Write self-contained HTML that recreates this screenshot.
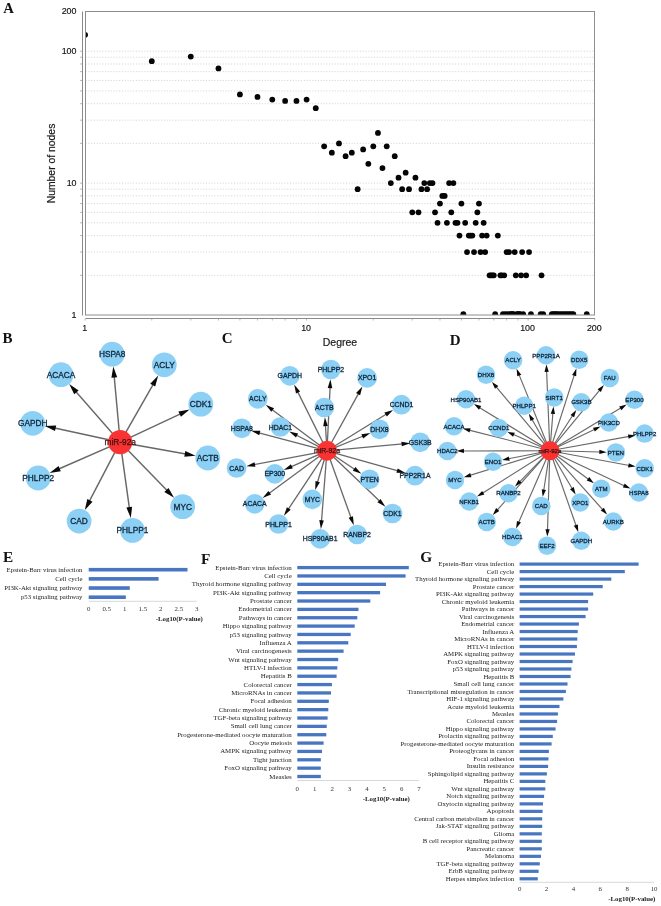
<!DOCTYPE html>
<html lang="en"><head><meta charset="utf-8"><title>miR-92a target network and pathway enrichment</title>
<style>html,body{margin:0;padding:0;background:#fff}svg{display:block}.sans{font-family:"Liberation Sans","DejaVu Sans",sans-serif}.serif{font-family:"Liberation Serif","DejaVu Serif",serif}.tick{font-size:8.9px;fill:#111;stroke:#111;stroke-width:0.15px}.axl{fill:#1a1a1a;stroke:#1a1a1a;stroke-width:0.2px}.nl{fill:#10263a;stroke:#10263a;stroke-width:0.3px;text-anchor:middle}.cl{fill:#3a1010;stroke:#3a1010;stroke-width:0.25px;text-anchor:middle}.bl{fill:#222;text-anchor:end}.bt{fill:#333;text-anchor:middle}.bx{fill:#222;font-weight:bold;text-anchor:middle}.pl{font-weight:bold;fill:#111}</style></head><body>
<svg width="661" height="906" viewBox="0 0 661 906" role="img" aria-label="miR-92a network degree distribution, target networks and KEGG pathway enrichment">
<rect width="661" height="906" fill="#fff"/>
<g id="panelA">
<line x1="85.5" y1="275.29" x2="594.5" y2="275.29" stroke="#cbcbcb" stroke-width="0.8" stroke-dasharray="1.1 1.7"/>
<line x1="80.2" y1="275.29" x2="82.5" y2="275.29" stroke="#9a9a9a" stroke-width="0.8"/>
<line x1="85.5" y1="252.07" x2="594.5" y2="252.07" stroke="#cbcbcb" stroke-width="0.8" stroke-dasharray="1.1 1.7"/>
<line x1="80.2" y1="252.07" x2="82.5" y2="252.07" stroke="#9a9a9a" stroke-width="0.8"/>
<line x1="85.5" y1="235.59" x2="594.5" y2="235.59" stroke="#cbcbcb" stroke-width="0.8" stroke-dasharray="1.1 1.7"/>
<line x1="80.2" y1="235.59" x2="82.5" y2="235.59" stroke="#9a9a9a" stroke-width="0.8"/>
<line x1="85.5" y1="222.81" x2="594.5" y2="222.81" stroke="#cbcbcb" stroke-width="0.8" stroke-dasharray="1.1 1.7"/>
<line x1="80.2" y1="222.81" x2="82.5" y2="222.81" stroke="#9a9a9a" stroke-width="0.8"/>
<line x1="85.5" y1="212.36" x2="594.5" y2="212.36" stroke="#cbcbcb" stroke-width="0.8" stroke-dasharray="1.1 1.7"/>
<line x1="80.2" y1="212.36" x2="82.5" y2="212.36" stroke="#9a9a9a" stroke-width="0.8"/>
<line x1="85.5" y1="203.53" x2="594.5" y2="203.53" stroke="#cbcbcb" stroke-width="0.8" stroke-dasharray="1.1 1.7"/>
<line x1="80.2" y1="203.53" x2="82.5" y2="203.53" stroke="#9a9a9a" stroke-width="0.8"/>
<line x1="85.5" y1="195.88" x2="594.5" y2="195.88" stroke="#cbcbcb" stroke-width="0.8" stroke-dasharray="1.1 1.7"/>
<line x1="80.2" y1="195.88" x2="82.5" y2="195.88" stroke="#9a9a9a" stroke-width="0.8"/>
<line x1="85.5" y1="189.14" x2="594.5" y2="189.14" stroke="#cbcbcb" stroke-width="0.8" stroke-dasharray="1.1 1.7"/>
<line x1="80.2" y1="189.14" x2="82.5" y2="189.14" stroke="#9a9a9a" stroke-width="0.8"/>
<line x1="85.5" y1="183.10" x2="594.5" y2="183.10" stroke="#cbcbcb" stroke-width="0.8" stroke-dasharray="1.1 1.7"/>
<line x1="80.2" y1="183.10" x2="82.5" y2="183.10" stroke="#9a9a9a" stroke-width="0.8"/>
<line x1="85.5" y1="143.39" x2="594.5" y2="143.39" stroke="#cbcbcb" stroke-width="0.8" stroke-dasharray="1.1 1.7"/>
<line x1="80.2" y1="143.39" x2="82.5" y2="143.39" stroke="#9a9a9a" stroke-width="0.8"/>
<line x1="85.5" y1="120.17" x2="594.5" y2="120.17" stroke="#cbcbcb" stroke-width="0.8" stroke-dasharray="1.1 1.7"/>
<line x1="80.2" y1="120.17" x2="82.5" y2="120.17" stroke="#9a9a9a" stroke-width="0.8"/>
<line x1="85.5" y1="103.69" x2="594.5" y2="103.69" stroke="#cbcbcb" stroke-width="0.8" stroke-dasharray="1.1 1.7"/>
<line x1="80.2" y1="103.69" x2="82.5" y2="103.69" stroke="#9a9a9a" stroke-width="0.8"/>
<line x1="85.5" y1="90.91" x2="594.5" y2="90.91" stroke="#cbcbcb" stroke-width="0.8" stroke-dasharray="1.1 1.7"/>
<line x1="80.2" y1="90.91" x2="82.5" y2="90.91" stroke="#9a9a9a" stroke-width="0.8"/>
<line x1="85.5" y1="80.46" x2="594.5" y2="80.46" stroke="#cbcbcb" stroke-width="0.8" stroke-dasharray="1.1 1.7"/>
<line x1="80.2" y1="80.46" x2="82.5" y2="80.46" stroke="#9a9a9a" stroke-width="0.8"/>
<line x1="85.5" y1="71.63" x2="594.5" y2="71.63" stroke="#cbcbcb" stroke-width="0.8" stroke-dasharray="1.1 1.7"/>
<line x1="80.2" y1="71.63" x2="82.5" y2="71.63" stroke="#9a9a9a" stroke-width="0.8"/>
<line x1="85.5" y1="63.98" x2="594.5" y2="63.98" stroke="#cbcbcb" stroke-width="0.8" stroke-dasharray="1.1 1.7"/>
<line x1="80.2" y1="63.98" x2="82.5" y2="63.98" stroke="#9a9a9a" stroke-width="0.8"/>
<line x1="85.5" y1="57.24" x2="594.5" y2="57.24" stroke="#cbcbcb" stroke-width="0.8" stroke-dasharray="1.1 1.7"/>
<line x1="80.2" y1="57.24" x2="82.5" y2="57.24" stroke="#9a9a9a" stroke-width="0.8"/>
<line x1="85.5" y1="51.20" x2="594.5" y2="51.20" stroke="#cbcbcb" stroke-width="0.8" stroke-dasharray="1.1 1.7"/>
<line x1="80.2" y1="51.20" x2="82.5" y2="51.20" stroke="#9a9a9a" stroke-width="0.8"/>
<line x1="82.5" y1="11.5" x2="82.5" y2="315.5" stroke="#8a8a8a" stroke-width="1"/>
<line x1="85.5" y1="318.5" x2="595.0" y2="318.5" stroke="#8a8a8a" stroke-width="1"/>
<line x1="85.10" y1="318.5" x2="85.10" y2="320.5" stroke="#9a9a9a" stroke-width="0.7"/>
<line x1="151.78" y1="318.5" x2="151.78" y2="320.5" stroke="#9a9a9a" stroke-width="0.7"/>
<line x1="190.78" y1="318.5" x2="190.78" y2="320.5" stroke="#9a9a9a" stroke-width="0.7"/>
<line x1="218.46" y1="318.5" x2="218.46" y2="320.5" stroke="#9a9a9a" stroke-width="0.7"/>
<line x1="239.92" y1="318.5" x2="239.92" y2="320.5" stroke="#9a9a9a" stroke-width="0.7"/>
<line x1="257.46" y1="318.5" x2="257.46" y2="320.5" stroke="#9a9a9a" stroke-width="0.7"/>
<line x1="272.29" y1="318.5" x2="272.29" y2="320.5" stroke="#9a9a9a" stroke-width="0.7"/>
<line x1="285.13" y1="318.5" x2="285.13" y2="320.5" stroke="#9a9a9a" stroke-width="0.7"/>
<line x1="296.46" y1="318.5" x2="296.46" y2="320.5" stroke="#9a9a9a" stroke-width="0.7"/>
<line x1="306.60" y1="318.5" x2="306.60" y2="320.5" stroke="#9a9a9a" stroke-width="0.7"/>
<line x1="373.28" y1="318.5" x2="373.28" y2="320.5" stroke="#9a9a9a" stroke-width="0.7"/>
<line x1="412.28" y1="318.5" x2="412.28" y2="320.5" stroke="#9a9a9a" stroke-width="0.7"/>
<line x1="439.96" y1="318.5" x2="439.96" y2="320.5" stroke="#9a9a9a" stroke-width="0.7"/>
<line x1="461.42" y1="318.5" x2="461.42" y2="320.5" stroke="#9a9a9a" stroke-width="0.7"/>
<line x1="478.96" y1="318.5" x2="478.96" y2="320.5" stroke="#9a9a9a" stroke-width="0.7"/>
<line x1="493.79" y1="318.5" x2="493.79" y2="320.5" stroke="#9a9a9a" stroke-width="0.7"/>
<line x1="506.63" y1="318.5" x2="506.63" y2="320.5" stroke="#9a9a9a" stroke-width="0.7"/>
<line x1="517.96" y1="318.5" x2="517.96" y2="320.5" stroke="#9a9a9a" stroke-width="0.7"/>
<line x1="528.10" y1="318.5" x2="528.10" y2="320.5" stroke="#9a9a9a" stroke-width="0.7"/>
<line x1="594.78" y1="318.5" x2="594.78" y2="320.5" stroke="#9a9a9a" stroke-width="0.7"/>
<clipPath id="clipA"><rect x="85.5" y="11.5" width="509.0" height="303.5"/></clipPath>
<g clip-path="url(#clipA)" fill="#050505">
<circle cx="85.10" cy="34.86" r="2.9"/>
<circle cx="151.78" cy="61.19" r="2.9"/>
<circle cx="190.78" cy="56.60" r="2.9"/>
<circle cx="218.46" cy="68.45" r="2.9"/>
<circle cx="239.92" cy="94.45" r="2.9"/>
<circle cx="257.46" cy="96.94" r="2.9"/>
<circle cx="272.29" cy="99.55" r="2.9"/>
<circle cx="285.13" cy="100.89" r="2.9"/>
<circle cx="296.46" cy="100.89" r="2.9"/>
<circle cx="306.60" cy="99.55" r="2.9"/>
<circle cx="315.77" cy="108.15" r="2.9"/>
<circle cx="324.14" cy="146.33" r="2.9"/>
<circle cx="331.84" cy="152.70" r="2.9"/>
<circle cx="338.97" cy="143.39" r="2.9"/>
<circle cx="345.60" cy="156.18" r="2.9"/>
<circle cx="351.81" cy="152.70" r="2.9"/>
<circle cx="357.64" cy="189.14" r="2.9"/>
<circle cx="363.14" cy="149.43" r="2.9"/>
<circle cx="368.34" cy="163.83" r="2.9"/>
<circle cx="373.28" cy="146.33" r="2.9"/>
<circle cx="377.97" cy="132.95" r="2.9"/>
<circle cx="382.45" cy="168.07" r="2.9"/>
<circle cx="386.72" cy="146.33" r="2.9"/>
<circle cx="390.82" cy="183.10" r="2.9"/>
<circle cx="394.74" cy="156.18" r="2.9"/>
<circle cx="398.52" cy="177.64" r="2.9"/>
<circle cx="402.15" cy="189.14" r="2.9"/>
<circle cx="405.65" cy="172.66" r="2.9"/>
<circle cx="409.02" cy="189.14" r="2.9"/>
<circle cx="412.28" cy="212.36" r="2.9"/>
<circle cx="415.44" cy="177.64" r="2.9"/>
<circle cx="418.49" cy="212.36" r="2.9"/>
<circle cx="421.45" cy="189.14" r="2.9"/>
<circle cx="424.32" cy="183.10" r="2.9"/>
<circle cx="427.11" cy="189.14" r="2.9"/>
<circle cx="429.82" cy="183.10" r="2.9"/>
<circle cx="432.46" cy="183.10" r="2.9"/>
<circle cx="435.02" cy="212.36" r="2.9"/>
<circle cx="437.52" cy="222.81" r="2.9"/>
<circle cx="439.96" cy="203.53" r="2.9"/>
<circle cx="442.33" cy="195.88" r="2.9"/>
<circle cx="444.65" cy="195.88" r="2.9"/>
<circle cx="446.91" cy="222.81" r="2.9"/>
<circle cx="449.12" cy="183.10" r="2.9"/>
<circle cx="451.29" cy="212.36" r="2.9"/>
<circle cx="453.40" cy="183.10" r="2.9"/>
<circle cx="455.47" cy="222.81" r="2.9"/>
<circle cx="457.49" cy="222.81" r="2.9"/>
<circle cx="459.48" cy="235.59" r="2.9"/>
<circle cx="461.42" cy="203.53" r="2.9"/>
<circle cx="463.33" cy="314.20" r="2.9"/>
<circle cx="465.19" cy="222.81" r="2.9"/>
<circle cx="467.03" cy="252.07" r="2.9"/>
<circle cx="468.83" cy="235.59" r="2.9"/>
<circle cx="470.59" cy="235.59" r="2.9"/>
<circle cx="472.32" cy="235.59" r="2.9"/>
<circle cx="474.03" cy="252.07" r="2.9"/>
<circle cx="475.70" cy="222.81" r="2.9"/>
<circle cx="477.34" cy="212.36" r="2.9"/>
<circle cx="478.96" cy="203.53" r="2.9"/>
<circle cx="480.55" cy="252.07" r="2.9"/>
<circle cx="482.11" cy="235.59" r="2.9"/>
<circle cx="483.65" cy="222.81" r="2.9"/>
<circle cx="485.17" cy="252.07" r="2.9"/>
<circle cx="486.66" cy="235.59" r="2.9"/>
<circle cx="489.58" cy="275.29" r="2.9"/>
<circle cx="491.00" cy="275.29" r="2.9"/>
<circle cx="492.41" cy="275.29" r="2.9"/>
<circle cx="493.79" cy="275.29" r="2.9"/>
<circle cx="495.15" cy="314.20" r="2.9"/>
<circle cx="497.83" cy="235.59" r="2.9"/>
<circle cx="500.43" cy="275.29" r="2.9"/>
<circle cx="501.70" cy="275.29" r="2.9"/>
<circle cx="502.96" cy="314.20" r="2.9"/>
<circle cx="504.20" cy="275.29" r="2.9"/>
<circle cx="505.42" cy="314.20" r="2.9"/>
<circle cx="506.63" cy="252.07" r="2.9"/>
<circle cx="507.83" cy="314.20" r="2.9"/>
<circle cx="509.01" cy="252.07" r="2.9"/>
<circle cx="510.18" cy="314.20" r="2.9"/>
<circle cx="511.33" cy="314.20" r="2.9"/>
<circle cx="512.47" cy="314.20" r="2.9"/>
<circle cx="513.59" cy="314.20" r="2.9"/>
<circle cx="514.70" cy="252.07" r="2.9"/>
<circle cx="515.80" cy="275.29" r="2.9"/>
<circle cx="516.89" cy="314.20" r="2.9"/>
<circle cx="517.96" cy="314.20" r="2.9"/>
<circle cx="519.03" cy="314.20" r="2.9"/>
<circle cx="520.08" cy="314.20" r="2.9"/>
<circle cx="521.12" cy="275.29" r="2.9"/>
<circle cx="522.15" cy="252.07" r="2.9"/>
<circle cx="523.17" cy="314.20" r="2.9"/>
<circle cx="526.16" cy="275.29" r="2.9"/>
<circle cx="529.06" cy="252.07" r="2.9"/>
<circle cx="530.94" cy="314.20" r="2.9"/>
<circle cx="540.70" cy="314.20" r="2.9"/>
<circle cx="541.54" cy="275.29" r="2.9"/>
<circle cx="543.20" cy="314.20" r="2.9"/>
<circle cx="551.85" cy="314.20" r="2.9"/>
<circle cx="553.34" cy="314.20" r="2.9"/>
<circle cx="554.81" cy="314.20" r="2.9"/>
<circle cx="556.25" cy="314.20" r="2.9"/>
<circle cx="557.68" cy="314.20" r="2.9"/>
<circle cx="559.78" cy="314.20" r="2.9"/>
<circle cx="561.83" cy="314.20" r="2.9"/>
<circle cx="563.84" cy="314.20" r="2.9"/>
<circle cx="565.81" cy="314.20" r="2.9"/>
<circle cx="567.74" cy="314.20" r="2.9"/>
<circle cx="569.64" cy="314.20" r="2.9"/>
<circle cx="571.49" cy="314.20" r="2.9"/>
<circle cx="573.31" cy="314.20" r="2.9"/>
<circle cx="586.76" cy="314.20" r="2.9"/>
</g>
<rect x="85.5" y="11.5" width="509.0" height="303.5" fill="none" stroke="#8e8e8e" stroke-width="1"/>
<text x="76.5" y="14.4" text-anchor="end" class="sans tick">200</text>
<text x="76.5" y="54.1" text-anchor="end" class="sans tick">100</text>
<text x="76.5" y="186.0" text-anchor="end" class="sans tick">10</text>
<text x="76.5" y="317.9" text-anchor="end" class="sans tick">1</text>
<text x="84.6" y="330.5" text-anchor="middle" class="sans tick">1</text>
<text x="306.1" y="330.5" text-anchor="middle" class="sans tick">10</text>
<text x="527.6" y="330.5" text-anchor="middle" class="sans tick">100</text>
<text x="594.3" y="330.5" text-anchor="middle" class="sans tick">200</text>
<text transform="translate(55.4,163.5) rotate(-90)" text-anchor="middle" class="sans axl" font-size="10.4">Number of nodes</text>
<text x="340" y="345.6" text-anchor="middle" class="sans axl" font-size="10.5">Degree</text>
</g>
<g id="panelB">
<line x1="120.2" y1="442.2" x2="114.2" y2="376.5" stroke="#686868" stroke-width="1.45"/>
<line x1="120.2" y1="442.2" x2="153.2" y2="384.3" stroke="#686868" stroke-width="1.45"/>
<line x1="120.2" y1="442.2" x2="75.8" y2="391.5" stroke="#686868" stroke-width="1.45"/>
<line x1="120.2" y1="442.2" x2="180.5" y2="413.8" stroke="#686868" stroke-width="1.45"/>
<line x1="120.2" y1="442.2" x2="54.6" y2="428.0" stroke="#686868" stroke-width="1.45"/>
<line x1="120.2" y1="442.2" x2="185.8" y2="454.0" stroke="#686868" stroke-width="1.45"/>
<line x1="120.2" y1="442.2" x2="58.7" y2="469.0" stroke="#686868" stroke-width="1.45"/>
<line x1="120.2" y1="442.2" x2="167.1" y2="490.6" stroke="#686868" stroke-width="1.45"/>
<line x1="120.2" y1="442.2" x2="89.4" y2="501.2" stroke="#686868" stroke-width="1.45"/>
<line x1="120.2" y1="442.2" x2="129.4" y2="508.2" stroke="#686868" stroke-width="1.45"/>
<circle cx="112.2" cy="354.2" r="12.4" fill="#8dd0f5"/>
<circle cx="164.3" cy="364.8" r="12.4" fill="#8dd0f5"/>
<circle cx="61.0" cy="374.7" r="12.4" fill="#8dd0f5"/>
<circle cx="200.8" cy="404.2" r="12.4" fill="#8dd0f5"/>
<circle cx="32.7" cy="423.3" r="12.4" fill="#8dd0f5"/>
<circle cx="207.8" cy="458.0" r="12.4" fill="#8dd0f5"/>
<circle cx="38.2" cy="478.0" r="12.4" fill="#8dd0f5"/>
<circle cx="182.7" cy="506.7" r="12.4" fill="#8dd0f5"/>
<circle cx="79.1" cy="521.1" r="12.4" fill="#8dd0f5"/>
<circle cx="132.5" cy="530.4" r="12.4" fill="#8dd0f5"/>
<polygon points="113.3,366.5 117.2,377.2 111.4,377.8" fill="#0a0a0a"/>
<polygon points="158.2,375.6 155.2,386.6 150.2,383.7" fill="#0a0a0a"/>
<polygon points="69.2,384.0 78.6,390.4 74.2,394.2" fill="#0a0a0a"/>
<polygon points="189.6,409.5 180.9,416.8 178.4,411.6" fill="#0a0a0a"/>
<polygon points="44.8,425.9 56.2,425.4 55.0,431.1" fill="#0a0a0a"/>
<polygon points="195.6,455.8 184.3,456.7 185.3,451.0" fill="#0a0a0a"/>
<polygon points="49.6,473.0 58.5,466.0 60.8,471.3" fill="#0a0a0a"/>
<polygon points="174.1,497.8 164.3,491.9 168.5,487.9" fill="#0a0a0a"/>
<polygon points="84.8,510.1 87.3,499.0 92.5,501.7" fill="#0a0a0a"/>
<polygon points="130.8,518.1 126.4,507.6 132.1,506.8" fill="#0a0a0a"/>
<circle cx="120.2" cy="442.2" r="12.1" fill="#fa3232"/>
<g class="sans" font-size="8.3">
<text x="112.2" y="357.2" class="nl">HSPA8</text>
<text x="164.3" y="367.8" class="nl">ACLY</text>
<text x="61.0" y="377.7" class="nl">ACACA</text>
<text x="200.8" y="407.2" class="nl">CDK1</text>
<text x="32.7" y="426.3" class="nl">GAPDH</text>
<text x="207.8" y="461.0" class="nl">ACTB</text>
<text x="38.2" y="481.0" class="nl">PHLPP2</text>
<text x="182.7" y="509.7" class="nl">MYC</text>
<text x="79.1" y="524.1" class="nl">CAD</text>
<text x="132.5" y="533.4" class="nl">PHLPP1</text>
<text x="120.2" y="445.2" class="cl">miR-92a</text>
</g>
</g>
<g id="panelC">
<line x1="327.0" y1="450.8" x2="297.6" y2="391.6" stroke="#686868" stroke-width="1.3"/>
<line x1="327.0" y1="450.8" x2="330.1" y2="387.1" stroke="#686868" stroke-width="1.3"/>
<line x1="327.0" y1="450.8" x2="358.6" y2="393.4" stroke="#686868" stroke-width="1.3"/>
<line x1="327.0" y1="450.8" x2="271.9" y2="409.4" stroke="#686868" stroke-width="1.3"/>
<line x1="327.0" y1="450.8" x2="325.4" y2="425.1" stroke="#686868" stroke-width="1.3"/>
<line x1="327.0" y1="450.8" x2="386.5" y2="414.0" stroke="#686868" stroke-width="1.3"/>
<line x1="327.0" y1="450.8" x2="258.9" y2="432.8" stroke="#686868" stroke-width="1.3"/>
<line x1="327.0" y1="450.8" x2="296.1" y2="435.0" stroke="#686868" stroke-width="1.3"/>
<line x1="327.0" y1="450.8" x2="363.2" y2="436.0" stroke="#686868" stroke-width="1.3"/>
<line x1="327.0" y1="450.8" x2="402.6" y2="443.9" stroke="#686868" stroke-width="1.3"/>
<line x1="327.0" y1="450.8" x2="253.9" y2="464.7" stroke="#686868" stroke-width="1.3"/>
<line x1="327.0" y1="450.8" x2="290.9" y2="466.8" stroke="#686868" stroke-width="1.3"/>
<line x1="327.0" y1="450.8" x2="354.9" y2="469.5" stroke="#686868" stroke-width="1.3"/>
<line x1="327.0" y1="450.8" x2="398.0" y2="470.9" stroke="#686868" stroke-width="1.3"/>
<line x1="327.0" y1="450.8" x2="268.9" y2="493.4" stroke="#686868" stroke-width="1.3"/>
<line x1="327.0" y1="450.8" x2="317.4" y2="482.5" stroke="#686868" stroke-width="1.3"/>
<line x1="327.0" y1="450.8" x2="379.8" y2="501.3" stroke="#686868" stroke-width="1.3"/>
<line x1="327.0" y1="450.8" x2="288.2" y2="509.3" stroke="#686868" stroke-width="1.3"/>
<line x1="327.0" y1="450.8" x2="321.5" y2="521.3" stroke="#686868" stroke-width="1.3"/>
<line x1="327.0" y1="450.8" x2="351.1" y2="517.9" stroke="#686868" stroke-width="1.3"/>
<circle cx="289.8" cy="375.8" r="9.85" fill="#8dd0f5"/>
<circle cx="330.9" cy="369.5" r="9.85" fill="#8dd0f5"/>
<circle cx="367.1" cy="377.9" r="9.85" fill="#8dd0f5"/>
<circle cx="257.8" cy="398.8" r="9.85" fill="#8dd0f5"/>
<circle cx="324.3" cy="407.5" r="9.85" fill="#8dd0f5"/>
<circle cx="401.5" cy="404.7" r="9.85" fill="#8dd0f5"/>
<circle cx="241.8" cy="428.3" r="9.85" fill="#8dd0f5"/>
<circle cx="280.4" cy="427.0" r="9.85" fill="#8dd0f5"/>
<circle cx="379.5" cy="429.3" r="9.85" fill="#8dd0f5"/>
<circle cx="420.2" cy="442.3" r="9.85" fill="#8dd0f5"/>
<circle cx="236.6" cy="468.0" r="9.85" fill="#8dd0f5"/>
<circle cx="274.8" cy="473.9" r="9.85" fill="#8dd0f5"/>
<circle cx="369.6" cy="479.3" r="9.85" fill="#8dd0f5"/>
<circle cx="415.0" cy="475.7" r="9.85" fill="#8dd0f5"/>
<circle cx="254.7" cy="503.8" r="9.85" fill="#8dd0f5"/>
<circle cx="312.3" cy="499.4" r="9.85" fill="#8dd0f5"/>
<circle cx="392.5" cy="513.5" r="9.85" fill="#8dd0f5"/>
<circle cx="278.5" cy="524.0" r="9.85" fill="#8dd0f5"/>
<circle cx="320.1" cy="538.9" r="9.85" fill="#8dd0f5"/>
<circle cx="357.1" cy="534.5" r="9.85" fill="#8dd0f5"/>
<polygon points="294.2,384.6 300.1,391.5 296.0,393.5" fill="#0a0a0a"/>
<polygon points="330.4,379.3 332.3,388.2 327.7,388.0" fill="#0a0a0a"/>
<polygon points="362.4,386.5 360.1,395.3 356.1,393.1" fill="#0a0a0a"/>
<polygon points="265.7,404.7 274.1,408.2 271.3,411.8" fill="#0a0a0a"/>
<polygon points="324.9,417.3 327.8,426.0 323.2,426.3" fill="#0a0a0a"/>
<polygon points="393.1,409.9 386.9,416.5 384.4,412.6" fill="#0a0a0a"/>
<polygon points="251.3,430.8 260.4,430.8 259.2,435.3" fill="#0a0a0a"/>
<polygon points="289.2,431.5 298.1,433.4 296.0,437.5" fill="#0a0a0a"/>
<polygon points="370.4,433.0 363.1,438.5 361.4,434.2" fill="#0a0a0a"/>
<polygon points="410.4,443.2 401.8,446.3 401.4,441.7" fill="#0a0a0a"/>
<polygon points="246.3,466.2 254.5,462.3 255.4,466.8" fill="#0a0a0a"/>
<polygon points="283.8,469.9 290.9,464.2 292.8,468.5" fill="#0a0a0a"/>
<polygon points="361.4,473.8 352.8,470.8 355.4,467.0" fill="#0a0a0a"/>
<polygon points="405.5,473.0 396.4,472.8 397.7,468.4" fill="#0a0a0a"/>
<polygon points="262.6,498.0 268.4,490.9 271.1,494.6" fill="#0a0a0a"/>
<polygon points="315.2,490.0 315.5,480.9 319.9,482.2" fill="#0a0a0a"/>
<polygon points="385.4,506.7 377.4,502.3 380.6,498.9" fill="#0a0a0a"/>
<polygon points="283.9,515.8 286.9,507.2 290.7,509.7" fill="#0a0a0a"/>
<polygon points="320.9,529.1 319.3,520.1 323.8,520.5" fill="#0a0a0a"/>
<polygon points="353.8,525.2 348.6,517.7 353.0,516.2" fill="#0a0a0a"/>
<circle cx="327.0" cy="450.8" r="10.0" fill="#fa3232"/>
<g class="sans" font-size="6.9">
<text x="289.8" y="378.3" class="nl">GAPDH</text>
<text x="330.9" y="372.0" class="nl">PHLPP2</text>
<text x="367.1" y="380.4" class="nl">XPO1</text>
<text x="257.8" y="401.3" class="nl">ACLY</text>
<text x="324.3" y="410.0" class="nl">ACTB</text>
<text x="401.5" y="407.2" class="nl">CCND1</text>
<text x="241.8" y="430.8" class="nl">HSPA8</text>
<text x="280.4" y="429.5" class="nl">HDAC1</text>
<text x="379.5" y="431.8" class="nl">DHX8</text>
<text x="420.2" y="444.8" class="nl">GSK3B</text>
<text x="236.6" y="470.5" class="nl">CAD</text>
<text x="274.8" y="476.4" class="nl">EP300</text>
<text x="369.6" y="481.8" class="nl">PTEN</text>
<text x="415.0" y="478.2" class="nl">PPP2R1A</text>
<text x="254.7" y="506.3" class="nl">ACACA</text>
<text x="312.3" y="501.9" class="nl">MYC</text>
<text x="392.5" y="516.0" class="nl">CDK1</text>
<text x="278.5" y="526.5" class="nl">PHLPP1</text>
<text x="320.1" y="541.4" class="nl">HSP90AB1</text>
<text x="357.1" y="537.0" class="nl">RANBP2</text>
<text x="327.0" y="453.3" class="cl">miR-92a</text>
</g>
</g>
<g id="panelD">
<line x1="549.9" y1="450.7" x2="519.0" y2="374.6" stroke="#686868" stroke-width="1.15"/>
<line x1="549.9" y1="450.7" x2="546.6" y2="370.8" stroke="#686868" stroke-width="1.15"/>
<line x1="549.9" y1="450.7" x2="574.4" y2="374.6" stroke="#686868" stroke-width="1.15"/>
<line x1="549.9" y1="450.7" x2="496.0" y2="386.7" stroke="#686868" stroke-width="1.15"/>
<line x1="549.9" y1="450.7" x2="599.9" y2="389.9" stroke="#686868" stroke-width="1.15"/>
<line x1="549.9" y1="450.7" x2="479.3" y2="407.4" stroke="#686868" stroke-width="1.15"/>
<line x1="549.9" y1="450.7" x2="552.9" y2="412.9" stroke="#686868" stroke-width="1.15"/>
<line x1="549.9" y1="450.7" x2="531.9" y2="419.2" stroke="#686868" stroke-width="1.15"/>
<line x1="549.9" y1="450.7" x2="572.8" y2="415.3" stroke="#686868" stroke-width="1.15"/>
<line x1="549.9" y1="450.7" x2="621.2" y2="407.8" stroke="#686868" stroke-width="1.15"/>
<line x1="549.9" y1="450.7" x2="469.1" y2="430.1" stroke="#686868" stroke-width="1.15"/>
<line x1="549.9" y1="450.7" x2="513.0" y2="434.3" stroke="#686868" stroke-width="1.15"/>
<line x1="549.9" y1="450.7" x2="594.9" y2="429.2" stroke="#686868" stroke-width="1.15"/>
<line x1="549.9" y1="450.7" x2="629.3" y2="436.4" stroke="#686868" stroke-width="1.15"/>
<line x1="549.9" y1="450.7" x2="462.9" y2="451.0" stroke="#686868" stroke-width="1.15"/>
<line x1="549.9" y1="450.7" x2="600.4" y2="452.0" stroke="#686868" stroke-width="1.15"/>
<line x1="549.9" y1="450.7" x2="508.3" y2="458.7" stroke="#686868" stroke-width="1.15"/>
<line x1="549.9" y1="450.7" x2="629.4" y2="465.5" stroke="#686868" stroke-width="1.15"/>
<line x1="549.9" y1="450.7" x2="469.9" y2="475.4" stroke="#686868" stroke-width="1.15"/>
<line x1="549.9" y1="450.7" x2="588.8" y2="479.5" stroke="#686868" stroke-width="1.15"/>
<line x1="549.9" y1="450.7" x2="624.7" y2="485.9" stroke="#686868" stroke-width="1.15"/>
<line x1="549.9" y1="450.7" x2="519.4" y2="482.1" stroke="#686868" stroke-width="1.15"/>
<line x1="549.9" y1="450.7" x2="482.4" y2="493.2" stroke="#686868" stroke-width="1.15"/>
<line x1="549.9" y1="450.7" x2="543.7" y2="490.5" stroke="#686868" stroke-width="1.15"/>
<line x1="549.9" y1="450.7" x2="572.4" y2="489.0" stroke="#686868" stroke-width="1.15"/>
<line x1="549.9" y1="450.7" x2="497.0" y2="510.3" stroke="#686868" stroke-width="1.15"/>
<line x1="549.9" y1="450.7" x2="602.9" y2="509.9" stroke="#686868" stroke-width="1.15"/>
<line x1="549.9" y1="450.7" x2="518.6" y2="522.6" stroke="#686868" stroke-width="1.15"/>
<line x1="549.9" y1="450.7" x2="547.5" y2="530.3" stroke="#686868" stroke-width="1.15"/>
<line x1="549.9" y1="450.7" x2="576.2" y2="526.0" stroke="#686868" stroke-width="1.15"/>
<circle cx="513.1" cy="360.2" r="9.25" fill="#8dd0f5"/>
<circle cx="546.0" cy="355.3" r="9.25" fill="#8dd0f5"/>
<circle cx="579.2" cy="359.8" r="9.25" fill="#8dd0f5"/>
<circle cx="486.0" cy="374.8" r="9.25" fill="#8dd0f5"/>
<circle cx="609.8" cy="377.9" r="9.25" fill="#8dd0f5"/>
<circle cx="466.0" cy="399.3" r="9.25" fill="#8dd0f5"/>
<circle cx="554.2" cy="397.4" r="9.25" fill="#8dd0f5"/>
<circle cx="524.2" cy="405.7" r="9.25" fill="#8dd0f5"/>
<circle cx="581.3" cy="402.2" r="9.25" fill="#8dd0f5"/>
<circle cx="634.5" cy="399.8" r="9.25" fill="#8dd0f5"/>
<circle cx="454.0" cy="426.3" r="9.25" fill="#8dd0f5"/>
<circle cx="498.8" cy="428.0" r="9.25" fill="#8dd0f5"/>
<circle cx="608.9" cy="422.5" r="9.25" fill="#8dd0f5"/>
<circle cx="644.6" cy="433.6" r="9.25" fill="#8dd0f5"/>
<circle cx="447.4" cy="451.0" r="9.25" fill="#8dd0f5"/>
<circle cx="615.9" cy="452.4" r="9.25" fill="#8dd0f5"/>
<circle cx="493.0" cy="461.7" r="9.25" fill="#8dd0f5"/>
<circle cx="644.7" cy="468.3" r="9.25" fill="#8dd0f5"/>
<circle cx="455.0" cy="480.0" r="9.25" fill="#8dd0f5"/>
<circle cx="601.3" cy="488.7" r="9.25" fill="#8dd0f5"/>
<circle cx="638.8" cy="492.5" r="9.25" fill="#8dd0f5"/>
<circle cx="508.5" cy="493.2" r="9.25" fill="#8dd0f5"/>
<circle cx="469.2" cy="501.5" r="9.25" fill="#8dd0f5"/>
<circle cx="541.3" cy="505.9" r="9.25" fill="#8dd0f5"/>
<circle cx="580.3" cy="502.4" r="9.25" fill="#8dd0f5"/>
<circle cx="486.7" cy="521.9" r="9.25" fill="#8dd0f5"/>
<circle cx="613.3" cy="521.5" r="9.25" fill="#8dd0f5"/>
<circle cx="512.4" cy="536.9" r="9.25" fill="#8dd0f5"/>
<circle cx="547.0" cy="545.8" r="9.25" fill="#8dd0f5"/>
<circle cx="581.3" cy="540.7" r="9.25" fill="#8dd0f5"/>
<polygon points="516.6,368.8 521.3,374.7 517.3,376.3" fill="#0a0a0a"/>
<polygon points="546.4,364.5 548.8,371.7 544.5,371.9" fill="#0a0a0a"/>
<polygon points="576.4,368.6 576.2,376.2 572.1,374.9" fill="#0a0a0a"/>
<polygon points="492.0,381.9 498.3,386.1 495.0,388.8" fill="#0a0a0a"/>
<polygon points="603.9,385.0 600.9,392.0 597.6,389.3" fill="#0a0a0a"/>
<polygon points="473.9,404.1 481.2,406.1 479.0,409.8" fill="#0a0a0a"/>
<polygon points="553.5,406.6 555.0,414.1 550.7,413.7" fill="#0a0a0a"/>
<polygon points="528.8,413.7 534.3,419.0 530.5,421.1" fill="#0a0a0a"/>
<polygon points="576.3,410.0 574.1,417.3 570.5,414.9" fill="#0a0a0a"/>
<polygon points="626.6,404.6 621.4,410.2 619.2,406.5" fill="#0a0a0a"/>
<polygon points="463.0,428.6 470.6,428.3 469.5,432.5" fill="#0a0a0a"/>
<polygon points="507.3,431.8 514.8,432.8 513.1,436.7" fill="#0a0a0a"/>
<polygon points="600.6,426.5 594.9,431.6 593.0,427.7" fill="#0a0a0a"/>
<polygon points="635.5,435.2 628.7,438.7 627.9,434.4" fill="#0a0a0a"/>
<polygon points="456.6,451.0 463.9,448.8 464.0,453.1" fill="#0a0a0a"/>
<polygon points="606.7,452.2 599.3,454.1 599.4,449.8" fill="#0a0a0a"/>
<polygon points="502.1,459.9 508.8,456.4 509.7,460.7" fill="#0a0a0a"/>
<polygon points="635.6,466.6 628.0,467.4 628.8,463.2" fill="#0a0a0a"/>
<polygon points="463.8,477.3 470.2,473.1 471.4,477.2" fill="#0a0a0a"/>
<polygon points="593.9,483.2 586.7,480.6 589.3,477.1" fill="#0a0a0a"/>
<polygon points="630.4,488.6 622.9,487.4 624.7,483.5" fill="#0a0a0a"/>
<polygon points="515.0,486.6 518.5,479.8 521.6,482.8" fill="#0a0a0a"/>
<polygon points="477.0,496.6 482.1,490.9 484.4,494.5" fill="#0a0a0a"/>
<polygon points="542.7,496.8 541.7,489.2 546.0,489.9" fill="#0a0a0a"/>
<polygon points="575.6,494.4 570.1,489.2 573.8,487.0" fill="#0a0a0a"/>
<polygon points="492.8,515.0 496.1,508.1 499.3,510.9" fill="#0a0a0a"/>
<polygon points="607.1,514.6 600.7,510.6 603.9,507.7" fill="#0a0a0a"/>
<polygon points="516.1,528.4 517.0,520.9 521.0,522.6" fill="#0a0a0a"/>
<polygon points="547.3,536.6 545.4,529.2 549.7,529.3" fill="#0a0a0a"/>
<polygon points="578.3,532.0 573.8,525.8 577.9,524.4" fill="#0a0a0a"/>
<circle cx="549.9" cy="450.7" r="9.6" fill="#fa3232"/>
<g class="sans" font-size="6.1">
<text x="513.1" y="362.4" class="nl">ACLY</text>
<text x="546.0" y="357.5" class="nl">PPP2R1A</text>
<text x="579.2" y="362.0" class="nl">DDX5</text>
<text x="486.0" y="377.0" class="nl">DHX8</text>
<text x="609.8" y="380.1" class="nl">FAU</text>
<text x="466.0" y="401.5" class="nl">HSP90AB1</text>
<text x="554.2" y="399.6" class="nl">SIRT1</text>
<text x="524.2" y="407.9" class="nl">PHLPP1</text>
<text x="581.3" y="404.4" class="nl">GSK3B</text>
<text x="634.5" y="402.0" class="nl">EP300</text>
<text x="454.0" y="428.5" class="nl">ACACA</text>
<text x="498.8" y="430.2" class="nl">CCND1</text>
<text x="608.9" y="424.7" class="nl">PIK3CD</text>
<text x="644.6" y="435.8" class="nl">PHLPP2</text>
<text x="447.4" y="453.2" class="nl">HDAC2</text>
<text x="615.9" y="454.6" class="nl">PTEN</text>
<text x="493.0" y="463.9" class="nl">ENO1</text>
<text x="644.7" y="470.5" class="nl">CDK1</text>
<text x="455.0" y="482.2" class="nl">MYC</text>
<text x="601.3" y="490.9" class="nl">ATM</text>
<text x="638.8" y="494.7" class="nl">HSPA8</text>
<text x="508.5" y="495.4" class="nl">RANBP2</text>
<text x="469.2" y="503.7" class="nl">NFKB1</text>
<text x="541.3" y="508.1" class="nl">CAD</text>
<text x="580.3" y="504.6" class="nl">XPO1</text>
<text x="486.7" y="524.1" class="nl">ACTB</text>
<text x="613.3" y="523.7" class="nl">AURKB</text>
<text x="512.4" y="539.1" class="nl">HDAC1</text>
<text x="547.0" y="548.0" class="nl">EEF2</text>
<text x="581.3" y="542.9" class="nl">GAPDH</text>
<text x="549.9" y="452.9" class="cl">miR-92a</text>
</g>
</g>
<g id="panelE" class="serif" font-size="6.8">
<line x1="88.7" y1="601.3" x2="196.8" y2="601.3" stroke="#d4d4d4" stroke-width="0.9"/>
<rect x="88.7" y="567.90" width="98.8" height="3.6" fill="#4876c0"/>
<text x="82.5" y="571.74" class="bl">Epstein-Barr virus infection</text>
<rect x="88.7" y="577.07" width="69.9" height="3.6" fill="#4876c0"/>
<text x="82.5" y="580.91" class="bl">Cell cycle</text>
<rect x="88.7" y="586.24" width="41.1" height="3.6" fill="#4876c0"/>
<text x="82.5" y="590.08" class="bl">PI3K-Akt signaling pathway</text>
<rect x="88.7" y="595.41" width="37.1" height="3.6" fill="#4876c0"/>
<text x="82.5" y="599.25" class="bl">p53 signaling pathway</text>
<text x="88.7" y="611.2" class="bt" font-size="6.85">0</text>
<text x="106.7" y="611.2" class="bt" font-size="6.85">0.5</text>
<text x="124.8" y="611.2" class="bt" font-size="6.85">1</text>
<text x="142.8" y="611.2" class="bt" font-size="6.85">1.5</text>
<text x="160.8" y="611.2" class="bt" font-size="6.85">2</text>
<text x="178.8" y="611.2" class="bt" font-size="6.85">2.5</text>
<text x="196.8" y="611.2" class="bt" font-size="6.85">3</text>
<text x="179.3" y="621.0" class="bx" font-size="6.85">-Log10(P-value)</text>
</g>
<g id="panelF" class="serif" font-size="6.87">
<line x1="297.3" y1="780.5" x2="419.0" y2="780.5" stroke="#d4d4d4" stroke-width="0.9"/>
<rect x="297.3" y="565.95" width="111.5" height="3.3" fill="#4876c0"/>
<text x="291.8" y="569.66" class="bl">Epstein-Barr virus infection</text>
<rect x="297.3" y="574.31" width="108.3" height="3.3" fill="#4876c0"/>
<text x="291.8" y="578.02" class="bl">Cell cycle</text>
<rect x="297.3" y="582.66" width="88.7" height="3.3" fill="#4876c0"/>
<text x="291.8" y="586.37" class="bl">Thyroid hormone signaling pathway</text>
<rect x="297.3" y="591.02" width="82.8" height="3.3" fill="#4876c0"/>
<text x="291.8" y="594.73" class="bl">PI3K-Akt signaling pathway</text>
<rect x="297.3" y="599.37" width="73.0" height="3.3" fill="#4876c0"/>
<text x="291.8" y="603.09" class="bl">Prostate cancer</text>
<rect x="297.3" y="607.73" width="61.2" height="3.3" fill="#4876c0"/>
<text x="291.8" y="611.44" class="bl">Endometrial cancer</text>
<rect x="297.3" y="616.09" width="60.0" height="3.3" fill="#4876c0"/>
<text x="291.8" y="619.80" class="bl">Pathways in cancer</text>
<rect x="297.3" y="624.44" width="57.4" height="3.3" fill="#4876c0"/>
<text x="291.8" y="628.15" class="bl">Hippo signaling pathway</text>
<rect x="297.3" y="632.80" width="53.4" height="3.3" fill="#4876c0"/>
<text x="291.8" y="636.51" class="bl">p53 signaling pathway</text>
<rect x="297.3" y="641.15" width="51.0" height="3.3" fill="#4876c0"/>
<text x="291.8" y="644.87" class="bl">Influenza A</text>
<rect x="297.3" y="649.51" width="46.3" height="3.3" fill="#4876c0"/>
<text x="291.8" y="653.22" class="bl">Viral carcinogenesis</text>
<rect x="297.3" y="657.87" width="40.9" height="3.3" fill="#4876c0"/>
<text x="291.8" y="661.58" class="bl">Wnt signaling pathway</text>
<rect x="297.3" y="666.22" width="40.0" height="3.3" fill="#4876c0"/>
<text x="291.8" y="669.93" class="bl">HTLV-I infection</text>
<rect x="297.3" y="674.58" width="39.3" height="3.3" fill="#4876c0"/>
<text x="291.8" y="678.29" class="bl">Hepatitis B</text>
<rect x="297.3" y="682.93" width="34.6" height="3.3" fill="#4876c0"/>
<text x="291.8" y="686.65" class="bl">Colorectal cancer</text>
<rect x="297.3" y="691.29" width="33.7" height="3.3" fill="#4876c0"/>
<text x="291.8" y="695.00" class="bl">MicroRNAs in cancer</text>
<rect x="297.3" y="699.65" width="31.5" height="3.3" fill="#4876c0"/>
<text x="291.8" y="703.36" class="bl">Focal adhesion</text>
<rect x="297.3" y="708.00" width="31.0" height="3.3" fill="#4876c0"/>
<text x="291.8" y="711.71" class="bl">Chronic myeloid leukemia</text>
<rect x="297.3" y="716.36" width="30.3" height="3.3" fill="#4876c0"/>
<text x="291.8" y="720.07" class="bl">TGF-beta signaling pathway</text>
<rect x="297.3" y="724.71" width="29.4" height="3.3" fill="#4876c0"/>
<text x="291.8" y="728.43" class="bl">Small cell lung cancer</text>
<rect x="297.3" y="733.07" width="29.0" height="3.3" fill="#4876c0"/>
<text x="291.8" y="736.78" class="bl">Progesterone-mediated oocyte maturation</text>
<rect x="297.3" y="741.43" width="26.3" height="3.3" fill="#4876c0"/>
<text x="291.8" y="745.14" class="bl">Oocyte meiosis</text>
<rect x="297.3" y="749.78" width="24.7" height="3.3" fill="#4876c0"/>
<text x="291.8" y="753.49" class="bl">AMPK signaling pathway</text>
<rect x="297.3" y="758.14" width="23.5" height="3.3" fill="#4876c0"/>
<text x="291.8" y="761.85" class="bl">Tight junction</text>
<rect x="297.3" y="766.49" width="23.5" height="3.3" fill="#4876c0"/>
<text x="291.8" y="770.21" class="bl">FoxO signaling pathway</text>
<rect x="297.3" y="774.85" width="23.5" height="3.3" fill="#4876c0"/>
<text x="291.8" y="778.56" class="bl">Measles</text>
<text x="297.3" y="790.8" class="bt" font-size="6.85">0</text>
<text x="314.7" y="790.8" class="bt" font-size="6.85">1</text>
<text x="332.1" y="790.8" class="bt" font-size="6.85">2</text>
<text x="349.5" y="790.8" class="bt" font-size="6.85">3</text>
<text x="366.9" y="790.8" class="bt" font-size="6.85">4</text>
<text x="384.2" y="790.8" class="bt" font-size="6.85">5</text>
<text x="401.6" y="790.8" class="bt" font-size="6.85">6</text>
<text x="419.0" y="790.8" class="bt" font-size="6.85">7</text>
<text x="386.3" y="801.2" class="bx" font-size="6.85">-Log10(P-value)</text>
</g>
<g id="panelG" class="serif" font-size="6.8">
<line x1="519.6" y1="882.3" x2="654.1" y2="882.3" stroke="#d4d4d4" stroke-width="0.9"/>
<rect x="519.6" y="562.50" width="119.0" height="3.2" fill="#4876c0"/>
<text x="514.2" y="566.14" class="bl">Epstein-Barr virus infection</text>
<rect x="519.6" y="569.99" width="105.2" height="3.2" fill="#4876c0"/>
<text x="514.2" y="573.63" class="bl">Cell cycle</text>
<rect x="519.6" y="577.49" width="91.7" height="3.2" fill="#4876c0"/>
<text x="514.2" y="581.13" class="bl">Thyroid hormone signaling pathway</text>
<rect x="519.6" y="584.98" width="83.1" height="3.2" fill="#4876c0"/>
<text x="514.2" y="588.62" class="bl">Prostate cancer</text>
<rect x="519.6" y="592.47" width="73.6" height="3.2" fill="#4876c0"/>
<text x="514.2" y="596.11" class="bl">PI3K-Akt signaling pathway</text>
<rect x="519.6" y="599.97" width="68.5" height="3.2" fill="#4876c0"/>
<text x="514.2" y="603.61" class="bl">Chronic myeloid leukemia</text>
<rect x="519.6" y="607.46" width="68.5" height="3.2" fill="#4876c0"/>
<text x="514.2" y="611.10" class="bl">Pathways in cancer</text>
<rect x="519.6" y="614.95" width="66.0" height="3.2" fill="#4876c0"/>
<text x="514.2" y="618.59" class="bl">Viral carcinogenesis</text>
<rect x="519.6" y="622.44" width="59.3" height="3.2" fill="#4876c0"/>
<text x="514.2" y="626.08" class="bl">Endometrial cancer</text>
<rect x="519.6" y="629.94" width="58.1" height="3.2" fill="#4876c0"/>
<text x="514.2" y="633.58" class="bl">Influenza A</text>
<rect x="519.6" y="637.43" width="57.7" height="3.2" fill="#4876c0"/>
<text x="514.2" y="641.07" class="bl">MicroRNAs in cancer</text>
<rect x="519.6" y="644.92" width="57.3" height="3.2" fill="#4876c0"/>
<text x="514.2" y="648.56" class="bl">HTLV-I infection</text>
<rect x="519.6" y="652.42" width="55.4" height="3.2" fill="#4876c0"/>
<text x="514.2" y="656.06" class="bl">AMPK signaling pathway</text>
<rect x="519.6" y="659.91" width="53.0" height="3.2" fill="#4876c0"/>
<text x="514.2" y="663.55" class="bl">FoxO signaling pathway</text>
<rect x="519.6" y="667.40" width="51.8" height="3.2" fill="#4876c0"/>
<text x="514.2" y="671.04" class="bl">p53 signaling pathway</text>
<rect x="519.6" y="674.89" width="51.0" height="3.2" fill="#4876c0"/>
<text x="514.2" y="678.53" class="bl">Hepatitis B</text>
<rect x="519.6" y="682.39" width="47.9" height="3.2" fill="#4876c0"/>
<text x="514.2" y="686.03" class="bl">Small cell lung cancer</text>
<rect x="519.6" y="689.88" width="46.3" height="3.2" fill="#4876c0"/>
<text x="514.2" y="693.52" class="bl">Transcriptional misregulation in cancer</text>
<rect x="519.6" y="697.37" width="43.8" height="3.2" fill="#4876c0"/>
<text x="514.2" y="701.01" class="bl">HIF-1 signaling pathway</text>
<rect x="519.6" y="704.87" width="39.9" height="3.2" fill="#4876c0"/>
<text x="514.2" y="708.51" class="bl">Acute myeloid leukemia</text>
<rect x="519.6" y="712.36" width="38.3" height="3.2" fill="#4876c0"/>
<text x="514.2" y="716.00" class="bl">Measles</text>
<rect x="519.6" y="719.85" width="37.5" height="3.2" fill="#4876c0"/>
<text x="514.2" y="723.49" class="bl">Colorectal cancer</text>
<rect x="519.6" y="727.35" width="36.0" height="3.2" fill="#4876c0"/>
<text x="514.2" y="730.99" class="bl">Hippo signaling pathway</text>
<rect x="519.6" y="734.84" width="33.2" height="3.2" fill="#4876c0"/>
<text x="514.2" y="738.48" class="bl">Prolactin signaling pathway</text>
<rect x="519.6" y="742.33" width="32.0" height="3.2" fill="#4876c0"/>
<text x="514.2" y="745.97" class="bl">Progesterone-mediated oocyte maturation</text>
<rect x="519.6" y="749.83" width="29.3" height="3.2" fill="#4876c0"/>
<text x="514.2" y="753.47" class="bl">Proteoglycans in cancer</text>
<rect x="519.6" y="757.32" width="28.9" height="3.2" fill="#4876c0"/>
<text x="514.2" y="760.96" class="bl">Focal adhesion</text>
<rect x="519.6" y="764.81" width="28.5" height="3.2" fill="#4876c0"/>
<text x="514.2" y="768.45" class="bl">Insulin resistance</text>
<rect x="519.6" y="772.30" width="27.3" height="3.2" fill="#4876c0"/>
<text x="514.2" y="775.94" class="bl">Sphingolipid signaling pathway</text>
<rect x="519.6" y="779.80" width="25.7" height="3.2" fill="#4876c0"/>
<text x="514.2" y="783.44" class="bl">Hepatitis C</text>
<rect x="519.6" y="787.29" width="25.7" height="3.2" fill="#4876c0"/>
<text x="514.2" y="790.93" class="bl">Wnt signaling pathway</text>
<rect x="519.6" y="794.78" width="24.5" height="3.2" fill="#4876c0"/>
<text x="514.2" y="798.42" class="bl">Notch signaling pathway</text>
<rect x="519.6" y="802.28" width="23.4" height="3.2" fill="#4876c0"/>
<text x="514.2" y="805.92" class="bl">Oxytocin signaling pathway</text>
<rect x="519.6" y="809.77" width="23.0" height="3.2" fill="#4876c0"/>
<text x="514.2" y="813.41" class="bl">Apoptosis</text>
<rect x="519.6" y="817.26" width="22.6" height="3.2" fill="#4876c0"/>
<text x="514.2" y="820.90" class="bl">Central carbon metabolism in cancer</text>
<rect x="519.6" y="824.75" width="22.6" height="3.2" fill="#4876c0"/>
<text x="514.2" y="828.39" class="bl">Jak-STAT signaling pathway</text>
<rect x="519.6" y="832.25" width="22.2" height="3.2" fill="#4876c0"/>
<text x="514.2" y="835.89" class="bl">Glioma</text>
<rect x="519.6" y="839.74" width="22.2" height="3.2" fill="#4876c0"/>
<text x="514.2" y="843.38" class="bl">B cell receptor signaling pathway</text>
<rect x="519.6" y="847.23" width="22.2" height="3.2" fill="#4876c0"/>
<text x="514.2" y="850.87" class="bl">Pancreatic cancer</text>
<rect x="519.6" y="854.73" width="21.4" height="3.2" fill="#4876c0"/>
<text x="514.2" y="858.37" class="bl">Melanoma</text>
<rect x="519.6" y="862.22" width="20.2" height="3.2" fill="#4876c0"/>
<text x="514.2" y="865.86" class="bl">TGF-beta signaling pathway</text>
<rect x="519.6" y="869.71" width="19.0" height="3.2" fill="#4876c0"/>
<text x="514.2" y="873.35" class="bl">ErbB signaling pathway</text>
<rect x="519.6" y="877.21" width="18.2" height="3.2" fill="#4876c0"/>
<text x="514.2" y="880.85" class="bl">Herpes simplex infection</text>
<text x="519.6" y="891.3" class="bt" font-size="6.85">0</text>
<text x="546.5" y="891.3" class="bt" font-size="6.85">2</text>
<text x="573.4" y="891.3" class="bt" font-size="6.85">4</text>
<text x="600.3" y="891.3" class="bt" font-size="6.85">6</text>
<text x="627.2" y="891.3" class="bt" font-size="6.85">8</text>
<text x="654.1" y="891.3" class="bt" font-size="6.85">10</text>
<text x="631.8" y="901.4" class="bx" font-size="6.85">-Log10(P-value)</text>
</g>
<text x="3.2" y="12.7" class="serif pl" font-size="14.7">A</text>
<text x="2.5" y="343.2" class="serif pl" font-size="15">B</text>
<text x="221.8" y="342.5" class="serif pl" font-size="15">C</text>
<text x="449.7" y="344.6" class="serif pl" font-size="15">D</text>
<text x="3.0" y="562.4" class="serif pl" font-size="15.3">E</text>
<text x="201.1" y="564.0" class="serif pl" font-size="15.3">F</text>
<text x="420.3" y="562.2" class="serif pl" font-size="15.3">G</text>
</svg></body></html>
